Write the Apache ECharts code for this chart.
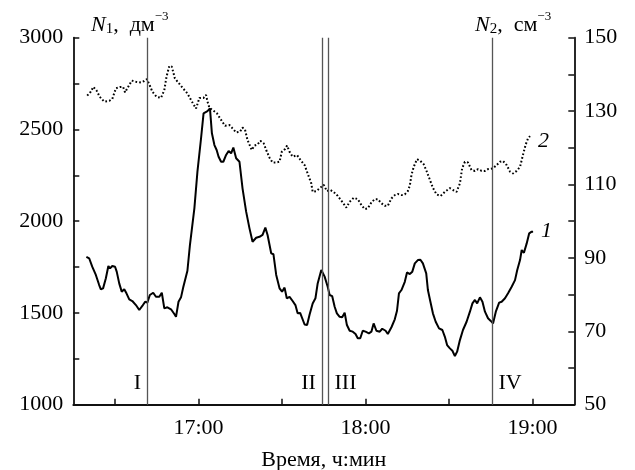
<!DOCTYPE html>
<html>
<head>
<meta charset="utf-8">
<script src="https://cdn.jsdelivr.net/npm/echarts@6/dist/echarts.min.js"></script>
<style>
  html, body { margin: 0; padding: 0; background: #fff; }
  #chart { width: 635px; height: 470px; }
</style>
</head>
<body>
<div id="chart"></div>
<script>
// Time is in minutes after midnight.
const n1Time = [979.7, 980.7, 981.8, 983.1, 984.3, 984.9, 985.7, 986.7, 987.6, 988.2, 989.0, 990.0, 990.6, 991.5, 992.4, 993.3, 994.1, 995.1, 996.2, 997.5, 998.7, 999.8, 1000.8, 1001.6, 1002.5, 1003.7, 1004.7, 1005.9, 1006.8, 1007.7, 1008.8, 1010.1, 1011.3, 1011.9, 1012.8, 1013.7, 1014.5, 1016.0, 1016.9, 1018.5, 1019.6, 1020.9, 1021.8, 1023.2, 1024.1, 1024.8, 1025.7, 1026.5, 1027.2, 1028.1, 1028.9, 1029.9, 1030.8, 1031.7, 1032.5, 1033.5, 1034.7, 1035.8, 1037.1, 1038.3, 1039.4, 1040.7, 1041.9, 1043.0, 1044.0, 1044.8, 1046.1, 1046.9, 1047.9, 1049.1, 1050.0, 1050.9, 1051.7, 1052.7, 1053.8, 1054.8, 1055.6, 1056.5, 1057.2, 1058.1, 1059.0, 1059.9, 1061.0, 1062.0, 1062.8, 1064.1, 1065.3, 1066.4, 1067.1, 1068.0, 1068.9, 1069.7, 1070.7, 1071.6, 1072.5, 1073.3, 1074.3, 1075.4, 1076.4, 1077.2, 1078.1, 1079.0, 1080.0, 1081.2, 1082.1, 1082.9, 1083.9, 1085.1, 1086.0, 1087.2, 1088.0, 1089.3, 1090.5, 1091.3, 1092.0, 1092.9, 1094.1, 1094.9, 1095.9, 1096.8, 1097.7, 1098.8, 1099.7, 1100.6, 1101.8, 1102.4, 1103.3, 1104.2, 1105.2, 1106.4, 1107.6, 1108.5, 1109.3, 1110.3, 1111.2, 1112.1, 1112.9, 1113.9, 1115.0, 1116.3, 1117.5, 1118.4, 1119.3, 1120.1, 1121.1, 1122.0, 1122.9, 1124.0, 1124.9, 1125.8, 1126.8, 1128.0, 1128.9, 1130.1, 1131.2, 1132.5, 1133.7, 1134.5, 1135.5, 1136.1, 1136.9, 1137.9, 1138.8, 1139.7, 1140.2];
const n1Values = [1806, 1798, 1752, 1707, 1652, 1629, 1634, 1689, 1756, 1743, 1756, 1752, 1725, 1661, 1616, 1629, 1607, 1574, 1565, 1543, 1516, 1538, 1561, 1556, 1598, 1610, 1588, 1588, 1610, 1525, 1531, 1520, 1494, 1479, 1561, 1585, 1640, 1730, 1870, 2070, 2270, 2452, 2588, 2600, 2615, 2479, 2415, 2388, 2351, 2324, 2324, 2361, 2383, 2370, 2401, 2343, 2324, 2179, 2052, 1961, 1888, 1910, 1915, 1925, 1965, 1925, 1825, 1820, 1707, 1634, 1616, 1638, 1580, 1588, 1565, 1543, 1498, 1500, 1494, 1437, 1434, 1492, 1552, 1580, 1661, 1734, 1698, 1643, 1598, 1592, 1534, 1498, 1479, 1476, 1501, 1434, 1403, 1398, 1385, 1362, 1362, 1403, 1398, 1389, 1398, 1443, 1403, 1398, 1414, 1403, 1385, 1422, 1465, 1512, 1607, 1625, 1670, 1721, 1712, 1725, 1770, 1788, 1790, 1770, 1716, 1625, 1561, 1498, 1452, 1416, 1407, 1370, 1325, 1307, 1294, 1265, 1289, 1352, 1407, 1452, 1507, 1552, 1571, 1552, 1585, 1561, 1507, 1471, 1458, 1443, 1507, 1556, 1561, 1580, 1607, 1643, 1679, 1734, 1788, 1843, 1828, 1879, 1934, 1943, 1943];

const n2Time = [980.0, 981.3, 982.2, 983.3, 984.5, 986.1, 987.9, 989.0, 990.3, 991.7, 992.9, 993.6, 994.4, 996.0, 997.5, 999.3, 1000.5, 1001.4, 1002.3, 1003.4, 1004.9, 1006.5, 1007.7, 1008.5, 1009.5, 1010.4, 1011.5, 1012.7, 1014.2, 1016.0, 1017.6, 1019.1, 1020.3, 1021.8, 1022.7, 1023.2, 1023.9, 1025.0, 1026.6, 1028.1, 1029.5, 1031.1, 1032.2, 1033.5, 1034.9, 1035.8, 1036.7, 1037.6, 1039.1, 1040.1, 1041.2, 1042.2, 1043.4, 1044.3, 1045.5, 1046.6, 1047.9, 1049.1, 1049.9, 1051.1, 1051.8, 1052.7, 1053.8, 1055.4, 1056.6, 1058.1, 1059.2, 1060.5, 1061.0, 1062.3, 1063.7, 1065.0, 1066.1, 1067.3, 1068.5, 1070.0, 1071.6, 1073.1, 1074.3, 1075.8, 1077.2, 1078.5, 1079.7, 1080.8, 1082.1, 1083.3, 1084.4, 1085.7, 1086.9, 1088.0, 1089.3, 1090.5, 1091.6, 1092.9, 1094.1, 1095.2, 1095.9, 1096.5, 1097.3, 1098.5, 1099.7, 1100.9, 1101.9, 1103.0, 1104.2, 1105.5, 1107.0, 1108.5, 1110.3, 1111.4, 1112.7, 1113.9, 1114.7, 1115.7, 1116.8, 1118.1, 1119.3, 1120.4, 1121.7, 1122.9, 1124.0, 1125.8, 1127.1, 1128.3, 1129.4, 1130.7, 1131.9, 1133.0, 1134.3, 1135.5, 1136.1, 1136.6, 1137.5, 1138.4, 1139.1];
const n2Values = [134.2, 135.3, 136.6, 135.7, 133.9, 132.6, 132.8, 133.3, 136.2, 136.6, 136.6, 135.1, 136.2, 138.3, 138.0, 137.8, 138.2, 138.7, 137.3, 135.3, 133.9, 133.6, 135.7, 139.4, 142.3, 142.1, 138.9, 137.8, 136.4, 134.8, 132.6, 130.7, 133.6, 133.6, 134.4, 132.6, 130.9, 130.3, 129.4, 127.6, 126.0, 126.2, 125.3, 124.2, 124.4, 125.5, 124.9, 122.1, 119.4, 120.6, 120.9, 121.9, 121.2, 119.4, 117.3, 116.0, 116.0, 116.2, 118.9, 119.7, 120.6, 118.9, 117.6, 118.0, 116.7, 115.3, 113.0, 110.3, 108.0, 108.2, 109.1, 109.9, 108.2, 108.5, 108.0, 106.9, 105.3, 103.7, 105.3, 106.4, 106.0, 104.4, 103.3, 103.5, 105.1, 106.0, 106.0, 104.9, 104.2, 104.2, 106.2, 107.1, 107.4, 107.1, 107.3, 108.2, 109.7, 112.6, 114.8, 116.9, 116.4, 115.5, 113.7, 111.5, 109.1, 107.3, 106.9, 108.0, 109.0, 108.5, 108.0, 110.3, 114.4, 116.2, 116.0, 113.9, 113.7, 114.2, 113.7, 113.7, 114.2, 114.4, 115.3, 116.2, 116.4, 115.3, 113.5, 113.0, 113.7, 114.8, 115.3, 118.2, 120.8, 122.6, 123.2];

// Marked moments I–IV
const eventTimes = [1001.5, 1064.3, 1066.7, 1125.6];
const eventLabels = ['I', 'II', 'III', 'IV'];
const eventSides = ['left', 'left', 'right', 'right'];
const eventLabelLevel = 1115;

// Axis ticks
const timeTicks = [990, 1020, 1050, 1080, 1110, 1140];
const timeLabels = [1020, 1080, 1140];
const leftLabels = [1000, 1500, 2000, 2500, 3000];
const rightLabels = [50, 70, 90, 110, 130, 150];

const FONT = '"Liberation Serif", "Times New Roman", serif';
const SIZE = 22;

function zip(xs, ys) { return xs.map((x, i) => [x, ys[i]]); }
function hhmm(v) {
  const h = Math.floor(v / 60), m = Math.round(v - h * 60);
  return h + ':' + (m < 10 ? '0' : '') + m;
}
function plain(v) { return String(v); }

const axisLineStyle = { show: true, lineStyle: { color: '#111', width: 1.8 } };
const axisTickStyle = { show: true, inside: true, length: 6, lineStyle: { color: '#111', width: 1.5 } };
const labelStyle = { color: '#000', fontFamily: FONT, fontSize: SIZE, margin: 10, formatter: plain };

const chart = echarts.init(document.getElementById('chart'), null, { renderer: 'canvas' });

function unitRich() {
  return {
    n: { fontFamily: FONT, fontSize: SIZE, fontStyle: 'italic', fill: '#000', lineHeight: 26, verticalAlign: 'bottom' },
    s: { fontFamily: FONT, fontSize: 15, fill: '#000', lineHeight: 26, verticalAlign: 'bottom', padding: [0, 0, -1, 0] },
    t: { fontFamily: FONT, fontSize: SIZE, fill: '#000', lineHeight: 26, verticalAlign: 'bottom' },
    p: { fontFamily: FONT, fontSize: 13, fill: '#000', lineHeight: 22, verticalAlign: 'top' }
  };
}

const unitTitles = [
  {
    id: 'unitLeft', type: 'text', left: 91, top: 10, silent: true,
    style: { text: '{n|N}{s|1}{t|,  дм}{p|−3}', rich: unitRich() }
  },
  {
    id: 'unitRight', type: 'text', left: 475, top: 10, silent: true,
    style: { text: '{n|N}{s|2}{t|,  см}{p|−3}', rich: unitRich() }
  }
];

chart.setOption({
  animation: false,
  backgroundColor: '#fff',
  grid: { left: 73.3, right: 60.7, top: 37.7, bottom: 65.3, containLabel: false, outerBoundsMode: 'none' },
  xAxis: {
    type: 'value', min: 975, max: 1155, interval: 15,
    name: 'Время, ч:мин', nameLocation: 'middle', nameGap: 45,
    nameTextStyle: { color: '#000', fontFamily: FONT, fontSize: SIZE },
    axisLine: axisLineStyle,
    axisTick: Object.assign({}, axisTickStyle, { customValues: timeTicks }),
    splitLine: { show: false },
    axisLabel: Object.assign({}, labelStyle, { customValues: timeLabels, formatter: hhmm, margin: 13 })
  },
  yAxis: [
    {
      type: 'value', min: 1000, max: 3000, interval: 250, position: 'left',
      axisLine: axisLineStyle, axisTick: axisTickStyle, splitLine: { show: false },
      axisLabel: Object.assign({}, labelStyle, { customValues: leftLabels })
    },
    {
      type: 'value', min: 50, max: 150, interval: 10, position: 'right',
      axisLine: axisLineStyle, axisTick: axisTickStyle, splitLine: { show: false },
      axisLabel: Object.assign({}, labelStyle, { customValues: rightLabels })
    }
  ],
  series: [
    {
      name: 'N1', type: 'line', yAxisIndex: 0, data: zip(n1Time, n1Values),
      symbol: 'none', smooth: false,
      lineStyle: { color: '#000', width: 2 },
      endLabel: { show: true, formatter: '1', color: '#000', fontFamily: FONT, fontSize: SIZE, fontStyle: 'italic', distance: 8, offset: [0, 0] },
      z: 3
    },
    {
      name: 'N2', type: 'line', yAxisIndex: 1, data: zip(n2Time, n2Values),
      symbol: 'none', smooth: false,
      lineStyle: { color: '#000', width: 2, type: [1.7, 2.1], cap: 'butt' },
      endLabel: { show: true, formatter: '2', color: '#000', fontFamily: FONT, fontSize: SIZE, fontStyle: 'italic', distance: 8, offset: [0, 5] },
      z: 3
    },
    {
      // vertical markers at the event times
      name: 'markers', type: 'line', yAxisIndex: 0, data: [], silent: true,
      markLine: {
        silent: true, symbol: ['none', 'none'], label: { show: false },
        lineStyle: { color: '#555', width: 1.3, type: 'solid', opacity: 1 },
        emphasis: { disabled: true },
        data: eventTimes.map(t => ({ xAxis: t }))
      },
      z: 2
    }
  ]
});

// Roman numerals beside the markers, placed through the axis scales
const eventTexts = eventTimes.map((t, i) => {
  const p = chart.convertToPixel({ xAxisIndex: 0, yAxisIndex: 0 }, [t, eventLabelLevel]);
  const left = eventSides[i] === 'left';
  return {
    id: 'event' + i, type: 'text', x: p[0] + (left ? -6 : 6), y: p[1], silent: true, z: 10,
    style: {
      text: eventLabels[i], fill: '#000', opacity: 1,
      font: SIZE + 'px ' + FONT,
      align: left ? 'right' : 'left', verticalAlign: 'middle'
    }
  };
});
chart.setOption({ graphic: unitTitles.concat(eventTexts) });
</script>
</body>
</html>
